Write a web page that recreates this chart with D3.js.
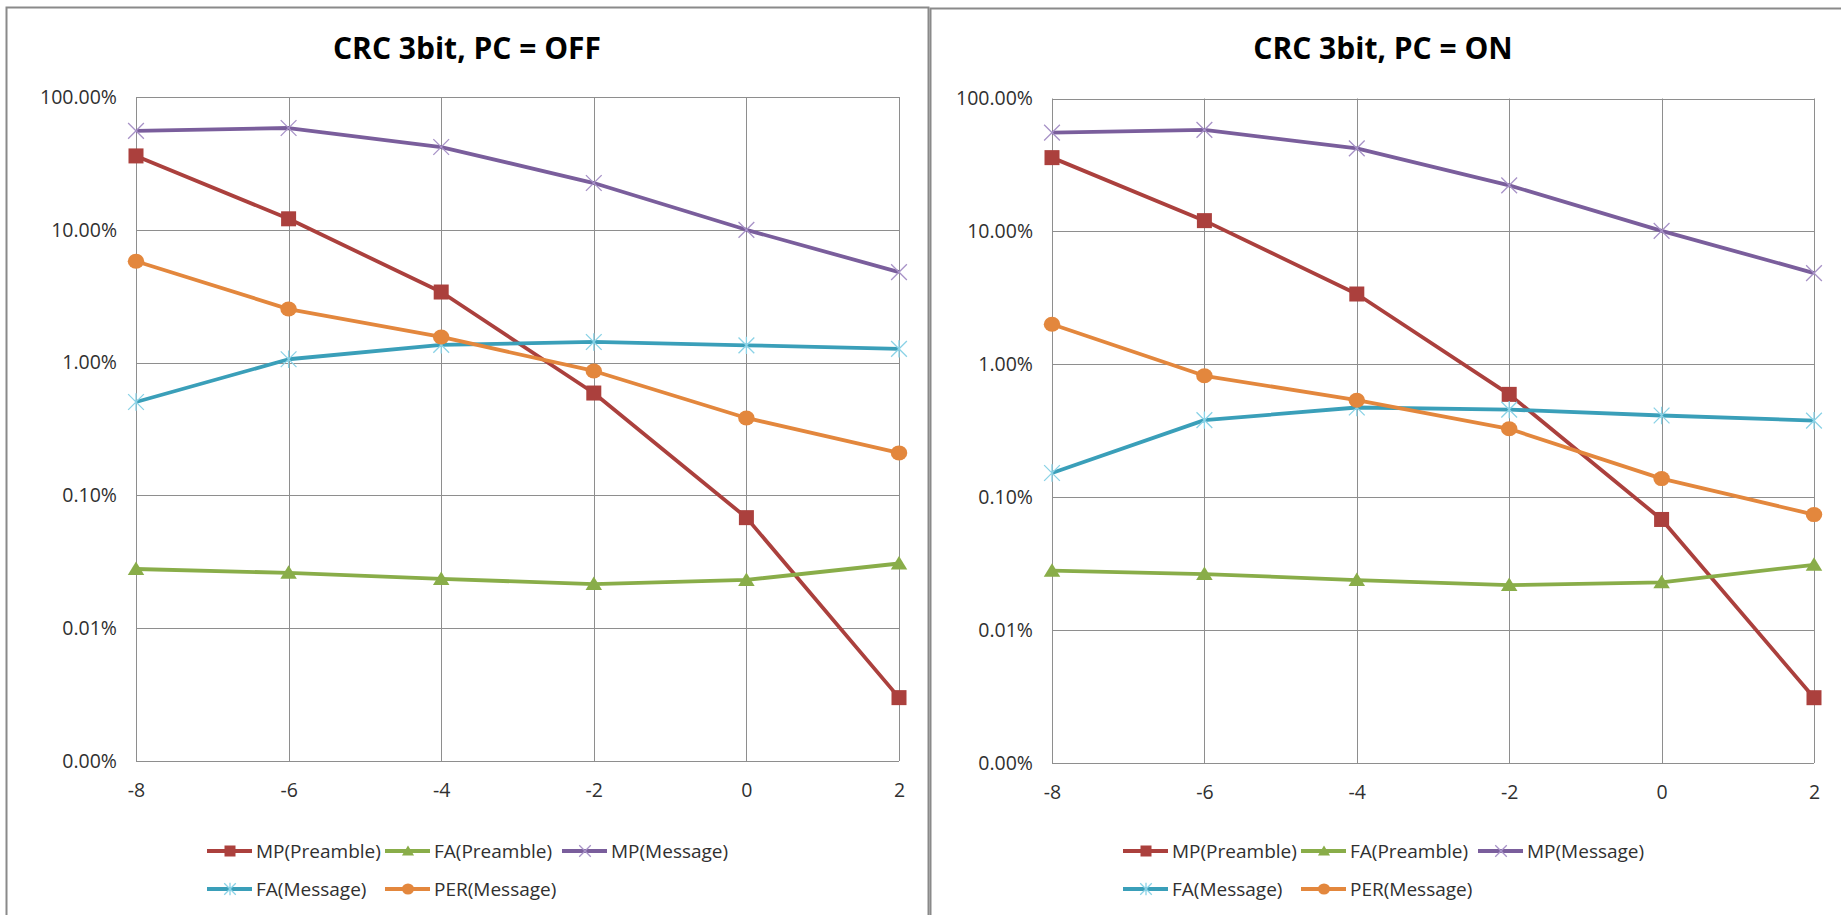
<!DOCTYPE html>
<html>
<head>
<meta charset="utf-8">
<script src="https://cdn.jsdelivr.net/npm/d3@7"></script>
<style>
  body { margin: 0; background: #fff; }
  svg { display: block; }
  .tick text { font-family: "Open Sans", sans-serif; fill: #303030; }
</style>
</head>
<body>
<svg id="chart" width="1841" height="915"></svg>
<script>
// x axis values (dB) and tick labels
const snrValues = [-8, -6, -4, -2, 0, 2]
const yTickValues = [100, 10, 1, 0.1, 0.01, 0.001]
const seriesNames = ["MP(Preamble)", "FA(Preamble)", "MP(Message)", "FA(Message)", "PER(Message)"]

// PC = OFF (values in %)
const offMpPreamble = [36.0, 12.1, 3.40, 0.59, 0.068, 0.0030]
const offFaPreamble = [0.0279, 0.0261, 0.0235, 0.0215, 0.0231, 0.0307]
const offMpMessage = [55.5, 58.4, 42.0, 22.5, 10.0, 4.8]
const offFaMessage = [0.505, 1.06, 1.36, 1.43, 1.35, 1.27]
const offPerMessage = [5.8, 2.53, 1.56, 0.865, 0.383, 0.209]

// PC = ON (values in %)
const onMpPreamble = [35.9, 12.05, 3.38, 0.594, 0.068, 0.0031]
const onFaPreamble = [0.028, 0.0264, 0.0238, 0.0218, 0.0229, 0.031]
const onMpMessage = [55.3, 58.0, 42.2, 22.2, 10.1, 4.86]
const onFaMessage = [0.152, 0.38, 0.473, 0.456, 0.412, 0.377]
const onPerMessage = [2.0, 0.82, 0.537, 0.327, 0.138, 0.074]

const lineColours = ["#ab403d", "#89ad49", "#7a5e9c", "#3a9fb9", "#e3873d"]
const markerColours = ["#ab403d", "#89ad49", "#a792c7", "#8ad2e6", "#e3873d"]
const markerTypes = ["square", "triangle", "cross", "star", "circle"]

const gridColour = "#8e8e8e"

const svg = d3.select("#chart")

svg.append("rect").attr("width", 1841).attr("height", 915).attr("fill", "#fff")

// outer frames
svg.append("rect")
  .attr("x", 6.5).attr("y", 7.5).attr("width", 922).attr("height", 940)
  .attr("fill", "none").attr("stroke", "#8a8a8a").attr("stroke-width", 2)
svg.append("rect")
  .attr("x", 930.5).attr("y", 8.5).attr("width", 940).attr("height", 940)
  .attr("fill", "none").attr("stroke", "#8a8a8a").attr("stroke-width", 2)

function drawMarker(g, type, x, y, s, i) {
  const fill = markerColours[i]
  if(type === "square") {
    g.append("rect").attr("x", x - s).attr("y", y - s)
      .attr("width", 2 * s).attr("height", 2 * s).attr("fill", fill)
  } else if(type === "triangle") {
    g.append("path")
      .attr("d", `M${x},${y - s}L${x + s * 1.1},${y + s * 0.8}L${x - s * 1.1},${y + s * 0.8}Z`)
      .attr("fill", fill)
  } else if(type === "circle") {
    g.append("ellipse").attr("cx", x).attr("cy", y)
      .attr("rx", s * 1.1).attr("ry", s).attr("fill", fill)
  } else {
    const k = s * 1.05
    g.append("path")
      .attr("d", `M${x - k},${y - k}L${x + k},${y + k}M${x - k},${y + k}L${x + k},${y - k}` +
        (type === "star" ? `M${x},${y - k * 1.1}L${x},${y + k * 1.1}` : ""))
      .attr("stroke", fill).attr("stroke-width", 1.3).attr("fill", "none")
  }
}

function drawChart(spec) {
  const g = svg.append("g")

  const x = d3.scaleLinear().domain([-8, 2]).range([spec.left, spec.right])
  const y = d3.scaleLog().domain([0.001, 100]).range([spec.bottom, spec.top])

  // title
  g.append("text")
    .attr("x", spec.titleX).attr("y", 59)
    .attr("text-anchor", "middle")
    .attr("font-family", "Open Sans, sans-serif")
    .attr("font-weight", "bold")
    .attr("font-size", 30)
    .attr("fill", "#000")
    .text(spec.title)

  // gridlines
  const grid = g.append("g")
  yTickValues.forEach(v => {
    const yy = Math.round(y(v)) + 0.5
    grid.append("line").attr("x1", spec.left).attr("x2", spec.right)
      .attr("y1", yy).attr("y2", yy).attr("stroke", gridColour)
  })
  snrValues.forEach(v => {
    const xx = Math.round(x(v)) + 0.5
    grid.append("line").attr("x1", xx).attr("x2", xx)
      .attr("y1", spec.top).attr("y2", spec.bottom).attr("stroke", gridColour)
  })

  // axes
  const yAxis = g.append("g")
    .attr("transform", `translate(${spec.left},0)`)
    .call(d3.axisLeft(y).tickValues(yTickValues).tickSize(0).tickPadding(19)
      .tickFormat(d => d3.format(".2f")(d) + "%"))
  const xAxis = g.append("g")
    .attr("transform", `translate(0,${spec.bottom})`)
    .call(d3.axisBottom(x).tickValues(snrValues).tickSize(0).tickPadding(22)
      .tickFormat(d => String(d)))
  yAxis.select(".domain").remove()
  xAxis.select(".domain").remove()
  g.selectAll(".tick text").attr("font-size", 19.5)

  // series
  const line = d3.line().x((d, i) => x(snrValues[i])).y(d => y(d))
  spec.series.forEach((values, i) => {
    g.append("path")
      .datum(values)
      .attr("d", line)
      .attr("fill", "none")
      .attr("stroke", lineColours[i])
      .attr("stroke-width", 3.8)
      .attr("stroke-linejoin", "round")
    const mg = g.append("g")
    values.forEach((v, j) => drawMarker(mg, markerTypes[i], x(snrValues[j]), y(v), 7.5, i))
  })

  // legend
  const colX = [0, 178, 355]
  const rowY = [851, 889]
  const legend = g.append("g").attr("transform", `translate(${spec.legendX},0)`)
  seriesNames.forEach((name, i) => {
    const lx = colX[i < 3 ? i : i - 3]
    const ly = rowY[i < 3 ? 0 : 1]
    legend.append("line")
      .attr("x1", lx).attr("x2", lx + 45).attr("y1", ly).attr("y2", ly)
      .attr("stroke", lineColours[i]).attr("stroke-width", 4)
    drawMarker(legend, markerTypes[i], lx + 23, ly, 5.5, i)
    legend.append("text")
      .attr("x", lx + 49).attr("y", ly).attr("dy", "0.35em")
      .attr("font-family", "Open Sans, sans-serif")
      .attr("font-size", 19)
      .attr("fill", "#303030")
      .text(name)
  })
}

drawChart({
  title: "CRC 3bit, PC = OFF",
  titleX: 467,
  left: 136, right: 899, top: 97, bottom: 761,
  legendX: 207,
  series: [offMpPreamble, offFaPreamble, offMpMessage, offFaMessage, offPerMessage]
})

drawChart({
  title: "CRC 3bit, PC = ON",
  titleX: 1383,
  left: 1052, right: 1814, top: 98.5, bottom: 763,
  legendX: 1123,
  series: [onMpPreamble, onFaPreamble, onMpMessage, onFaMessage, onPerMessage]
})
</script>
</body>
</html>
